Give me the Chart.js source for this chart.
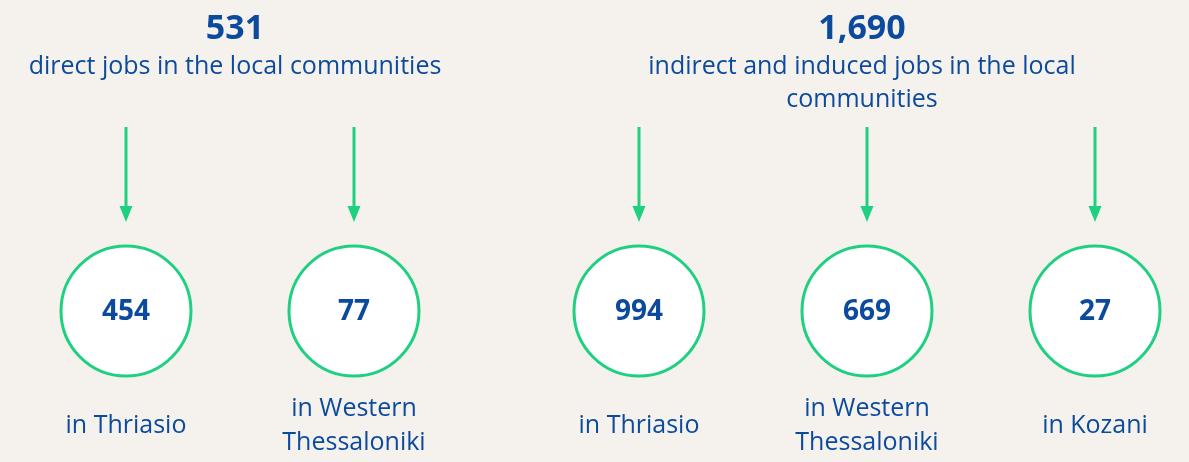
<!DOCTYPE html>
<html>
<head>
<meta charset="utf-8">
<script src="https://cdn.jsdelivr.net/npm/chart.js@4.4.1/dist/chart.umd.min.js"></script>
<style>
  html, body { margin: 0; padding: 0; background: #f5f2ee; overflow: hidden; }
  #wrap { width: 1189px; height: 462px; }
</style>
</head>
<body>
<div id="wrap"><canvas id="c" width="1189" height="462"></canvas></div>
<script>
// ---- data ----
const groupTotals = [531, 1690];
const groupDescriptions = [
  'direct jobs in the local communities',
  'indirect and induced jobs in the local communities'
];
const regions = ['Thriasio', 'Western Thessaloniki', 'Thriasio', 'Western Thessaloniki', 'Kozani'];
const jobs = [454, 77, 994, 669, 27];
const regionGroup = [0, 0, 1, 1, 1];

// ---- layout / style ----
const BLUE = '#0b4a9c';
const GREEN = '#1fd081';
const FONT = '"Open Sans", "Noto Sans", sans-serif';
const GROUP_GAP = 0.25;
const L = {
  titleY: 29, titleDx: -5, descY: 67, descLine: 33, descWrap: 440,
  arrowTop: 127, arrowTip: 222, circleY: 311, radius: 65,
  labelY: 426, labelLine: 34, labelWrap: 200
};

const xs = jobs.map((v, i) => i + regionGroup[i] * GROUP_GAP);
const points = jobs.map((v, i) => ({ x: xs[i], y: L.circleY, v: v }));

function wrap(ctx, text, maxW) {
  const words = text.split(' ');
  const lines = [];
  let cur = '';
  words.forEach(w => {
    const t = cur ? cur + ' ' + w : w;
    if (cur && ctx.measureText(t).width > maxW) { lines.push(cur); cur = w; }
    else cur = t;
  });
  if (cur) lines.push(cur);
  return lines;
}

const overlay = {
  id: 'overlay',
  beforeDraw(chart) {
    const ctx = chart.ctx;
    ctx.save();
    ctx.fillStyle = '#f5f2ee';
    ctx.fillRect(0, 0, chart.width, chart.height);
    ctx.restore();
  },
  afterDatasetsDraw(chart) {
    const ctx = chart.ctx;
    const xS = chart.scales.x, yS = chart.scales.y;
    ctx.save();
    ctx.textAlign = 'center';
    ctx.textBaseline = 'middle';
    // arrows
    xs.forEach(x => {
      const px = xS.getPixelForValue(x);
      const top = yS.getPixelForValue(L.arrowTop);
      const tip = yS.getPixelForValue(L.arrowTip);
      ctx.strokeStyle = GREEN;
      ctx.fillStyle = GREEN;
      ctx.lineWidth = 3;
      ctx.beginPath();
      ctx.moveTo(px, top);
      ctx.lineTo(px, tip - 10);
      ctx.stroke();
      ctx.beginPath();
      ctx.moveTo(px - 6.5, tip - 16);
      ctx.lineTo(px + 6.5, tip - 16);
      ctx.lineTo(px, tip);
      ctx.closePath();
      ctx.fill();
    });
    // circle values
    ctx.fillStyle = BLUE;
    ctx.font = 'bold 28px ' + FONT;
    points.forEach(p => {
      ctx.fillText(String(p.v), xS.getPixelForValue(p.x), yS.getPixelForValue(p.y) + 1);
    });
    // region labels
    ctx.font = '25px ' + FONT;
    regions.forEach((r, i) => {
      const lines = wrap(ctx, 'in ' + r, L.labelWrap);
      const px = xS.getPixelForValue(xs[i]);
      const start = L.labelY - (lines.length - 1) * L.labelLine / 2;
      lines.forEach((ln, k) => ctx.fillText(ln, px, yS.getPixelForValue(start + k * L.labelLine)));
    });
    // group titles
    groupTotals.forEach((t, g) => {
      const idx = xs.filter((x, i) => regionGroup[i] === g);
      const cx = xS.getPixelForValue((Math.min(...idx) + Math.max(...idx)) / 2) + L.titleDx;
      ctx.font = 'bold 34px ' + FONT;
      ctx.fillText(t.toLocaleString('en-US'), cx, yS.getPixelForValue(L.titleY));
      ctx.font = '25px ' + FONT;
      const lines = wrap(ctx, groupDescriptions[g], L.descWrap);
      lines.forEach((ln, k) => ctx.fillText(ln, cx, yS.getPixelForValue(L.descY + k * L.descLine)));
    });
    ctx.restore();
  }
};

new Chart(document.getElementById('c'), {
  type: 'scatter',
  data: {
    datasets: [{
      data: points,
      pointRadius: L.radius,
      pointHoverRadius: L.radius,
      pointBackgroundColor: '#ffffff',
      pointBorderColor: GREEN,
      pointBorderWidth: 3,
      pointHoverBorderWidth: 3,
      clip: false
    }]
  },
  options: {
    responsive: false,
    animation: false,
    devicePixelRatio: 1,
    events: [],
    layout: { padding: 0, autoPadding: false },
    plugins: { legend: { display: false }, tooltip: { enabled: false } },
    scales: {
      x: { type: 'linear', min: -0.5526, max: 4.6623, display: false },
      y: { type: 'linear', min: 0, max: 462, reverse: true, display: false }
    }
  },
  plugins: [overlay]
});
</script>
</body>
</html>
